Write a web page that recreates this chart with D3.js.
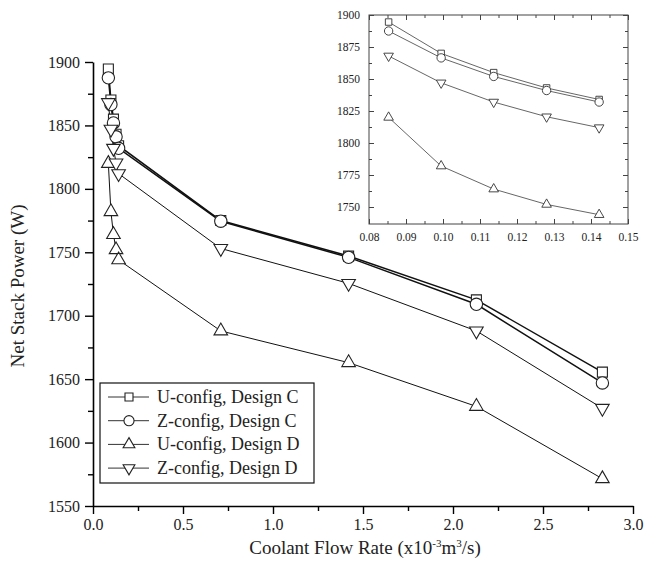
<!DOCTYPE html>
<html>
<head>
<meta charset="utf-8">
<script src="https://cdn.jsdelivr.net/npm/d3@7"></script>
<style>
  html, body { margin: 0; padding: 0; background: #fff; }
  svg text { font-family: "Liberation Serif", "Times New Roman", "DejaVu Serif", serif !important; }
</style>
</head>
<body>
<svg id="chart" width="647" height="571"></svg>
<script>
// Coolant flow rate (x10^-3 m^3/s)
const flowRates = [0.0853, 0.0995, 0.1137, 0.128, 0.1422, 0.71, 1.42, 2.13, 2.83];

// Net stack power (W) for each configuration
const uConfigC = [1894.5, 1870, 1855, 1843, 1834, 1775, 1747, 1712.5, 1655.5];
const zConfigC = [1887.5, 1866.5, 1852, 1841, 1832, 1774.5, 1746, 1709, 1647];
const uConfigD = [1820, 1782, 1764, 1752, 1744, 1688, 1663, 1628.5, 1571.5];
const zConfigD = [1868, 1847, 1832, 1820.5, 1812, 1753, 1725.5, 1688, 1627];

const seriesNames = ["U-config, Design C", "Z-config, Design C", "U-config, Design D", "Z-config, Design D"];
const seriesShapes = ["square", "circle", "triangleUp", "triangleDown"];

const mainXTicks = [0.0, 0.5, 1.0, 1.5, 2.0, 2.5, 3.0];
const mainYTicks = [1550, 1600, 1650, 1700, 1750, 1800, 1850, 1900];
const insetXTicks = [0.08, 0.09, 0.10, 0.11, 0.12, 0.13, 0.14, 0.15];
const insetYTicks = [1750, 1775, 1800, 1825, 1850, 1875, 1900];

const series = [uConfigC, zConfigC, uConfigD, zConfigD].map((vals, i) => ({
  name: seriesNames[i],
  shape: seriesShapes[i],
  points: flowRates.map((x, j) => ({ x, y: vals[j] }))
}));

const svg = d3.select("#chart");
const textColor = "#222";

function symbolPath(shape, size) {
  const type = shape === "square" ? d3.symbolSquare
    : shape === "circle" ? d3.symbolCircle
    : d3.symbolTriangle;
  return d3.symbol().type(type).size(size)();
}
function symbolTransform(shape, x, y) {
  return shape === "triangleDown"
    ? `translate(${x},${y}) rotate(180)`
    : `translate(${x},${y})`;
}

// ---------- main plot ----------
const main = { left: 93, right: 633, top: 62, bottom: 506 };
const x = d3.scaleLinear().domain([0, 3]).range([main.left, main.right]);
const y = d3.scaleLinear().domain([1550, 1900]).range([main.bottom, main.top]);

const gMain = svg.append("g");

// minor ticks
const xMinor = d3.range(0.25, 3, 0.5);
const yMinor = d3.range(1575, 1900, 50);

const xAxis = d3.axisBottom(x).tickValues(mainXTicks).tickFormat(d3.format(".1f"))
  .tickSizeInner(8).tickSizeOuter(0).tickPadding(5);
const yAxis = d3.axisLeft(y).tickValues(mainYTicks).tickFormat(d3.format("d"))
  .tickSizeInner(8).tickSizeOuter(0).tickPadding(5);

gMain.append("g").attr("transform", `translate(0,${main.bottom})`).call(xAxis);
gMain.append("g").attr("transform", `translate(${main.left},0)`).call(yAxis);
gMain.append("g").attr("transform", `translate(0,${main.bottom})`)
  .call(d3.axisBottom(x).tickValues(xMinor).tickSize(5).tickFormat("").tickSizeOuter(0))
  .select(".domain").remove();
gMain.append("g").attr("transform", `translate(${main.left},0)`)
  .call(d3.axisLeft(y).tickValues(yMinor).tickSize(5).tickFormat("").tickSizeOuter(0))
  .select(".domain").remove();

gMain.selectAll(".domain").attr("stroke", "#000").attr("stroke-width", 1.6);
gMain.selectAll(".tick line").attr("stroke", "#000").attr("stroke-width", 1.4);
gMain.selectAll(".tick text").attr("font-size", 16).attr("fill", textColor);

// axis titles
svg.append("text")
  .attr("transform", `translate(24,${(main.top + main.bottom) / 2 + 2}) rotate(-90)`)
  .attr("text-anchor", "middle").attr("font-size", 19).attr("fill", textColor)
  .text("Net Stack Power (W)");

const xt = svg.append("text")
  .attr("x", (main.left + main.right) / 2 + 2).attr("y", 554)
  .attr("text-anchor", "middle").attr("font-size", 19).attr("fill", textColor);
xt.append("tspan").text("Coolant Flow Rate (x10");
xt.append("tspan").attr("font-size", 11).attr("dy", -7).text("-3");
xt.append("tspan").attr("dy", 7).text("m");
xt.append("tspan").attr("font-size", 11).attr("dy", -7).text("3");
xt.append("tspan").attr("dy", 7).text("/s)");

const lineMain = d3.line().x(d => x(d.x)).y(d => y(d.y));
const mainWidths = [1.5, 1.5, 1, 1];
series.forEach((s, i) => {
  gMain.append("path").datum(s.points)
    .attr("d", lineMain).attr("fill", "none")
    .attr("stroke", "#111").attr("stroke-width", mainWidths[i]);
});
const mainSizes = { square: 100, circle: 120, triangleUp: 80, triangleDown: 80 };
series.forEach(s => {
  gMain.selectAll(null).data(s.points).enter().append("path")
    .attr("d", symbolPath(s.shape, mainSizes[s.shape]))
    .attr("transform", d => symbolTransform(s.shape, x(d.x), y(d.y)))
    .attr("fill", "#fff").attr("stroke", "#222").attr("stroke-width", 1.1);
});

// ---------- legend ----------
const legend = svg.append("g");
legend.append("rect").attr("x", 100).attr("y", 383).attr("width", 214).attr("height", 100)
  .attr("fill", "#fff").attr("stroke", "#111").attr("stroke-width", 1.2);
const legendSizes = { square: 64, circle: 80, triangleUp: 60, triangleDown: 60 };
series.forEach((s, i) => {
  const ly = 397 + i * 23.7;
  legend.append("line").attr("x1", 108).attr("x2", 149).attr("y1", ly).attr("y2", ly)
    .attr("stroke", "#333").attr("stroke-width", 1);
  legend.append("path").attr("d", symbolPath(s.shape, legendSizes[s.shape]))
    .attr("transform", symbolTransform(s.shape, 129, ly))
    .attr("fill", "#fff").attr("stroke", "#222").attr("stroke-width", 1.1);
  legend.append("text").attr("x", 157).attr("y", ly + 6)
    .attr("font-size", 18).attr("fill", textColor).text(s.name);
});

// ---------- inset ----------
const ins = { left: 369, right: 628, top: 15, bottom: 224 };
const xi = d3.scaleLinear().domain([0.08, 0.15]).range([ins.left, ins.right]);
const yi = d3.scaleLinear().domain([1750, 1900]).range([ins.top + 192, ins.top]);
const gIns = svg.append("g");
gIns.append("rect").attr("x", ins.left).attr("y", ins.top)
  .attr("width", ins.right - ins.left).attr("height", ins.bottom - ins.top)
  .attr("fill", "#fff").attr("stroke", "#444").attr("stroke-width", 1);

const insXMinor = d3.range(0.085, 0.15, 0.01);
const insYMinor = d3.range(1762.5, 1900, 25);
const axisFont = g => g.selectAll(".tick text").attr("font-size", 11.5).attr("fill", textColor);

gIns.append("g").attr("transform", `translate(0,${ins.bottom})`)
  .call(d3.axisBottom(xi).tickValues(insetXTicks).tickFormat(d3.format(".2f"))
    .tickSizeInner(-5).tickSizeOuter(0).tickPadding(9))
  .call(axisFont);
gIns.append("g").attr("transform", `translate(0,${ins.bottom})`)
  .call(d3.axisBottom(xi).tickValues(insXMinor).tickSize(-3).tickFormat("").tickSizeOuter(0));
gIns.append("g").attr("transform", `translate(0,${ins.top})`)
  .call(d3.axisTop(xi).tickValues(insetXTicks).tickSize(-5).tickFormat("").tickSizeOuter(0));
gIns.append("g").attr("transform", `translate(0,${ins.top})`)
  .call(d3.axisTop(xi).tickValues(insXMinor).tickSize(-3).tickFormat("").tickSizeOuter(0));

gIns.append("g").attr("transform", `translate(${ins.left},0)`)
  .call(d3.axisLeft(yi).tickValues(insetYTicks).tickFormat(d3.format("d"))
    .tickSizeInner(-5).tickSizeOuter(0).tickPadding(9))
  .call(axisFont);
gIns.append("g").attr("transform", `translate(${ins.left},0)`)
  .call(d3.axisLeft(yi).tickValues(insYMinor).tickSize(-3).tickFormat("").tickSizeOuter(0));
gIns.append("g").attr("transform", `translate(${ins.right},0)`)
  .call(d3.axisRight(yi).tickValues(insetYTicks).tickSize(-5).tickFormat("").tickSizeOuter(0));
gIns.append("g").attr("transform", `translate(${ins.right},0)`)
  .call(d3.axisRight(yi).tickValues(insYMinor).tickSize(-3).tickFormat("").tickSizeOuter(0));
gIns.selectAll(".domain").remove();
gIns.selectAll(".tick line").attr("stroke", "#444").attr("stroke-width", 1);

const lineIns = d3.line().x(d => xi(d.x)).y(d => yi(d.y));
const insetSizes = { square: 42, circle: 55, triangleUp: 40, triangleDown: 40 };
series.forEach(s => {
  const pts = s.points.filter(p => p.x < 0.15);
  gIns.append("path").datum(pts).attr("d", lineIns).attr("fill", "none")
    .attr("stroke", "#555").attr("stroke-width", 0.9);
});
series.forEach(s => {
  const pts = s.points.filter(p => p.x < 0.15);
  gIns.selectAll(null).data(pts).enter().append("path")
    .attr("d", symbolPath(s.shape, insetSizes[s.shape]))
    .attr("transform", d => symbolTransform(s.shape, xi(d.x), yi(d.y)))
    .attr("fill", "#fff").attr("stroke", "#333").attr("stroke-width", 0.9);
});
</script>
</body>
</html>
